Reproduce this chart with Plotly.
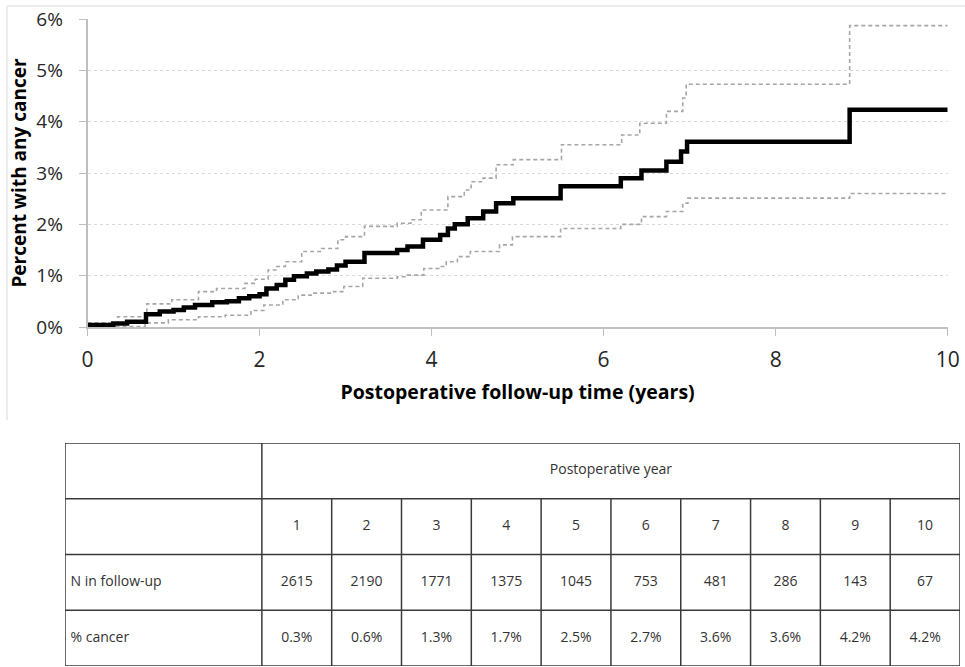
import plotly.graph_objects as go

# ---------------- data ----------------
main_t = [0, 0.30, 0.46, 0.68, 0.84, 1.00, 1.12, 1.25, 1.45, 1.62, 1.76, 1.88, 2.00, 2.08, 2.20, 2.30,
          2.40, 2.55, 2.66, 2.80, 2.90, 3.00, 3.22, 3.60, 3.72, 3.90, 4.10, 4.19, 4.27, 4.42, 4.60,
          4.75, 4.95, 5.50, 6.20, 6.44, 6.73, 6.90, 6.97, 8.86, 10.0]
main_p = [0.04, 0.07, 0.10, 0.25, 0.30, 0.33, 0.38, 0.43, 0.48, 0.50, 0.56, 0.60, 0.64, 0.75, 0.82, 0.92,
          0.99, 1.04, 1.08, 1.12, 1.20, 1.27, 1.44, 1.50, 1.57, 1.70, 1.79, 1.92, 2.00, 2.12, 2.25,
          2.41, 2.51, 2.74, 2.90, 3.05, 3.22, 3.42, 3.61, 4.23, 4.23]

upper_t = [0, 0.35, 0.69, 0.98, 1.29, 1.50, 1.83, 1.95, 2.10, 2.20, 2.30, 2.49, 2.72, 2.91, 3.00, 3.22,
           3.60, 3.76, 3.88, 4.19, 4.38, 4.46, 4.60, 4.75, 4.95, 5.51, 6.21, 6.42, 6.73, 6.92, 6.96,
           8.86, 10.0]
upper_p = [0.08, 0.20, 0.45, 0.53, 0.69, 0.75, 0.85, 0.93, 1.11, 1.18, 1.27, 1.47, 1.53, 1.70, 1.76, 1.96,
           2.02, 2.09, 2.28, 2.54, 2.67, 2.83, 2.90, 3.16, 3.26, 3.55, 3.74, 3.97, 4.20, 4.46, 4.73,
           5.87, 5.87]

lower_t = [0, 0.67, 0.94, 1.29, 1.60, 1.90, 2.05, 2.27, 2.45, 2.60, 2.86, 2.98, 3.20, 3.60, 3.72, 3.91,
           4.10, 4.17, 4.30, 4.45, 4.79, 4.94, 5.50, 6.20, 6.44, 6.73, 6.92, 6.98, 8.86, 10.0]
lower_p = [0.01, 0.08, 0.14, 0.20, 0.23, 0.32, 0.43, 0.53, 0.62, 0.66, 0.69, 0.79, 0.95, 0.98, 1.01, 1.14,
           1.18, 1.27, 1.37, 1.47, 1.60, 1.76, 1.92, 2.00, 2.15, 2.25, 2.41, 2.51, 2.60, 2.60]

y_ticks = [0, 1, 2, 3, 4, 5, 6]
y_tick_labels = ["0%", "1%", "2%", "3%", "4%", "5%", "6%"]
x_ticks = [0, 2, 4, 6, 8, 10]

table_years = ["1", "2", "3", "4", "5", "6", "7", "8", "9", "10"]
n_follow = ["2615", "2190", "1771", "1375", "1045", "753", "481", "286", "143", "67"]
pct_cancer = ["0.3%", "0.6%", "1.3%", "1.7%", "2.5%", "2.7%", "3.6%", "3.6%", "4.2%", "4.2%"]
row_labels = ["", "", "N in follow-up", "% cancer"]
header_text = "Postoperative year"

FONT = "Open Sans"
W, H = 965, 667

fig = go.Figure()

ci_line = dict(color="#a6a6a6", width=1.6, dash="4px,3px", shape="hv")
fig.add_trace(go.Scatter(x=upper_t, y=upper_p, mode="lines", line=ci_line, hoverinfo="skip", showlegend=False))
fig.add_trace(go.Scatter(x=lower_t, y=lower_p, mode="lines", line=ci_line, hoverinfo="skip", showlegend=False))
fig.add_trace(go.Scatter(x=main_t, y=main_p, mode="lines", line=dict(color="#000000", width=4.5, shape="hv"),
                         showlegend=False))

# ---------------- table on second axes ----------------
first_w = 2.82  # width of first column in units of a year column
n_cols = len(table_years)
col_x = [first_w + i + 0.5 for i in range(n_cols)]
tfont = dict(family=FONT, size=14, color="#333333")

for row_y, vals in [(1.5, table_years), (2.5, n_follow), (3.5, pct_cancer)]:
    fig.add_trace(go.Scatter(x=col_x, y=[row_y] * n_cols, text=vals, mode="text", xaxis="x2", yaxis="y2",
                             textfont=tfont, showlegend=False, hoverinfo="skip"))
fig.add_trace(go.Scatter(x=[0.08] * 4, y=[0.5, 1.5, 2.5, 3.5], text=row_labels, mode="text", textposition="middle right",
                         xaxis="x2", yaxis="y2", textfont=tfont, showlegend=False, hoverinfo="skip"))
fig.add_trace(go.Scatter(x=[first_w + n_cols / 2], y=[0.5], text=[header_text], mode="text", xaxis="x2", yaxis="y2",
                         textfont=tfont, showlegend=False, hoverinfo="skip"))

total_w = first_w + n_cols
shapes = []
lc = dict(color="#3a3a3a", width=1.5)
shapes.append(dict(type="rect", xref="x2", yref="y2", x0=0, x1=total_w, y0=0, y1=4, line=lc))
for r in [1, 2, 3]:
    shapes.append(dict(type="line", xref="x2", yref="y2", x0=0, x1=total_w, y0=r, y1=r, line=lc))
shapes.append(dict(type="line", xref="x2", yref="y2", x0=first_w, x1=first_w, y0=0, y1=4, line=lc))
for i in range(1, n_cols):
    shapes.append(dict(type="line", xref="x2", yref="y2", x0=first_w + i, x1=first_w + i, y0=1, y1=4, line=lc))

# faint chart frame (top and left edges)
frame = dict(color="#ececec", width=2)
shapes.append(dict(type="line", xref="paper", yref="paper", x0=7 / W, x1=1, y0=1 - 6 / H, y1=1 - 6 / H, line=frame))
shapes.append(dict(type="line", xref="paper", yref="paper", x0=7 / W, x1=7 / W, y0=1 - 6 / H, y1=1 - 420 / H, line=frame))

px_l, px_r = 87.5, 947.7
py_t, py_b = 19.0, 327.0

fig.update_layout(
    width=W, height=H,
    margin=dict(l=0, r=0, t=0, b=0, autoexpand=False),
    paper_bgcolor="white", plot_bgcolor="white",
    shapes=shapes,
    xaxis=dict(domain=[px_l / W, px_r / W], range=[0, 10], tickvals=x_ticks, ticktext=[str(v) for v in x_ticks],
               showgrid=False, zeroline=False, showline=True, linecolor="#bfbfbf", linewidth=1.5,
               ticks="outside", ticklen=7, tickcolor="#bfbfbf", tickwidth=1.2, ticklabelstandoff=6,
               tickfont=dict(family=FONT, size=21, color="#262626"), automargin=False,
               title=dict(text="<b>Postoperative follow-up time (years)</b>", standoff=13,
                          font=dict(family=FONT, size=19.5, color="#000000")),
               anchor="y", fixedrange=True),
    yaxis=dict(domain=[1 - py_b / H, 1 - py_t / H], range=[0, 6], tickvals=y_ticks, ticktext=y_tick_labels,
               showgrid=True, gridcolor="#d9d9d9", gridwidth=1, griddash="dot", zeroline=False,
               showline=True, linecolor="#bfbfbf", linewidth=1.5,
               ticks="outside", ticklen=7, tickcolor="#bfbfbf", ticklabelstandoff=12,
               tickfont=dict(family=FONT, size=19, color="#262626"), automargin=False,
               title=dict(text="<b>Percent with any cancer</b>", standoff=5,
                          font=dict(family=FONT, size=19, color="#000000")),
               anchor="x", fixedrange=True),
    xaxis2=dict(domain=[65 / W, 960 / W], range=[0, total_w], visible=False, anchor="y2", fixedrange=True),
    yaxis2=dict(domain=[1 - 666 / H, 1 - 443 / H], range=[4, 0], visible=False, anchor="x2", fixedrange=True),
)

fig.write_html("out.html", config={"displayModeBar": False},
               post_script="document.body.style.margin='0px';")
